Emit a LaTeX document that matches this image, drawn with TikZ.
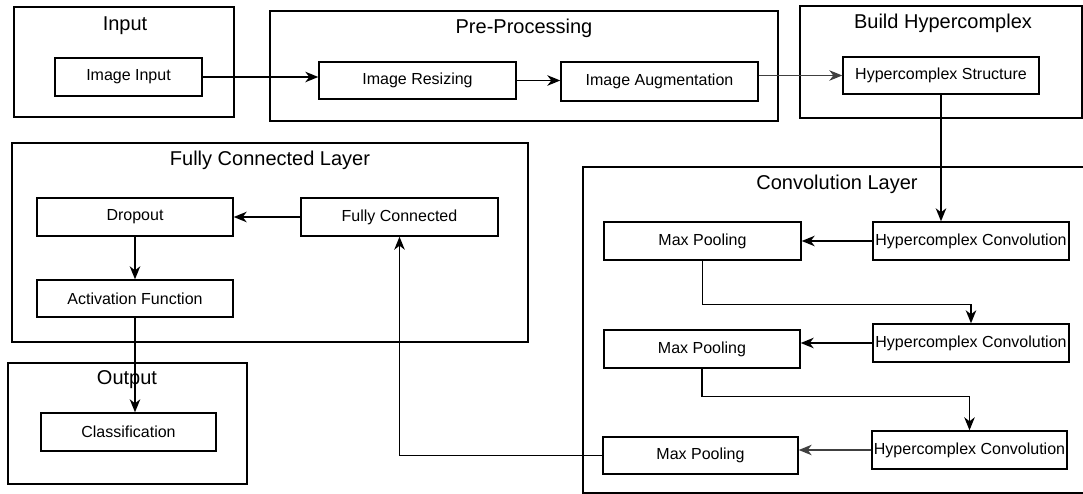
\documentclass[tikz,border=0pt]{standalone}
\usepackage{fontspec}
\setmainfont{Liberation Sans}
\usetikzlibrary{arrows.meta,calc}

\tikzset{
  group/.style={draw=black, line width=1.4pt, fill=none, inner sep=0pt},
  stage/.style={draw=black, line width=1.4pt, fill=white, inner sep=0pt,
                font=\fontsize{16}{19}\selectfont},
  grouptitle/.style={inner sep=0pt, font=\fontsize{20}{24}\selectfont},
  flow/.style={line width=1.5pt,
               -{Stealth[length=13pt,width=10.5pt,inset=4pt]}},
  thinflow/.style={flow, line width=1.1pt, draw=black!75},
}

\begin{document}
\begin{tikzpicture}[x=1pt,y=-1pt]
\useasboundingbox (0,0) rectangle (1083,494);
\clip (0,0) rectangle (1083,494);
\fill[white] (0,0) rectangle (1083,494);

% group frames
\node[group, minimum width=220, minimum height=110] (gin)   at (124,62)    {};
\node[group, minimum width=508, minimum height=110] (gpre)  at (524,66)    {};
\node[group, minimum width=282, minimum height=112] (gbuild) at (941,62)   {};
\node[group, minimum width=520, minimum height=326] (gconv) at (843,330)   {};
\node[group, minimum width=516, minimum height=199] (gfc)   at (270,242.5) {};
\node[group, minimum width=239, minimum height=121] (gout)  at (127.5,423.5) {};

% group titles
\node[grouptitle] (tin)    at (125,26)  {Input};
\node[grouptitle] (tpre)   at (524,28)  {Pre-Processing};
\node[grouptitle] (tbuild) at (943,23)  {Build Hypercomplex};
\node[grouptitle] (tconv)  at (837,184) {Convolution Layer};
\node[grouptitle] (tfc)    at (270,160) {Fully Connected Layer};
\node[grouptitle] (tout)   at (127,380) {Output};

% processing steps
\node[stage, minimum width=147, minimum height=38] (ii)  at (128.5,77)  {Image Input};
\node[stage, minimum width=197, minimum height=37] (ir)  at (417.5,80.5) {Image Resizing};
\node[stage, minimum width=197, minimum height=39] (aug) at (659.5,81.5) {Image Augmentation};
\node[stage, minimum width=196, minimum height=37] (hcs) at (941,75.5)  {Hypercomplex Structure};

\node[stage, minimum width=197, minimum height=38] (mp1) at (702.5,241) {Max Pooling};
\node[stage, minimum width=196, minimum height=38] (hc1) at (971,241)   {Hypercomplex Convolution};
\node[stage, minimum width=196, minimum height=38] (mp2) at (702,349)   {Max Pooling};
\node[stage, minimum width=196, minimum height=38] (hc2) at (971,343)   {Hypercomplex Convolution};
\node[stage, minimum width=195, minimum height=37] (mp3) at (700.5,455.5) {Max Pooling};
\node[stage, minimum width=195, minimum height=38] (hc3) at (969.5,450) {Hypercomplex Convolution};

\node[stage, minimum width=196, minimum height=38] (drop) at (135,217)   {Dropout};
\node[stage, minimum width=197, minimum height=38] (fc)   at (399.5,217) {Fully Connected};
\node[stage, minimum width=196, minimum height=37] (act)  at (135,298.5) {Activation Function};

\node[stage, minimum width=175, minimum height=38] (cls) at (128.5,432) {Classification};

% connectors
\draw[flow] (ii.east) -- (ii.east -| ir.west);
\draw[flow] (ir.east) -- (ir.east -| aug.west);
\draw[thinflow] (aug.east |- hcs.west) -- (hcs.west);
\draw[flow] (hcs.south) -- (hcs.south |- hc1.north);
\draw[flow] (hc1.west) -- (hc1.west -| mp1.east);
\draw[flow] (mp1.south) -- ++(0,44) -| (hc2.north);
\draw[flow] (hc2.west) -- (hc2.west -| mp2.east);
\draw[flow] (mp2.south) -- ++(0,28) -| (hc3.north);
\draw[thinflow] (hc3.west) -- (hc3.west -| mp3.east);
\draw[flow] (mp3.west) -| (fc.south);
\draw[flow] (fc.west) -- (drop.east);
\draw[flow] (drop.south) -- (act.north);
\draw[flow] (act.south) -- (act.south |- cls.north);
\end{tikzpicture}
\end{document}
